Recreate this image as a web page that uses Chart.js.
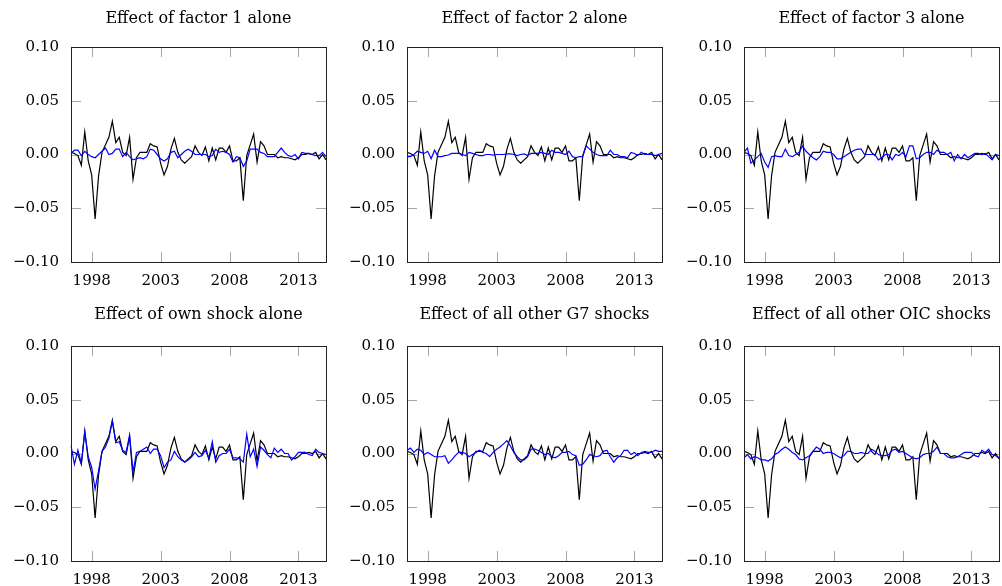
<!DOCTYPE html>
<html><head><meta charset="utf-8">
<script src="https://cdn.jsdelivr.net/npm/chart.js@4.4.1/dist/chart.umd.min.js"></script>
<style>
html,body{margin:0;padding:0;background:#fff;overflow:hidden;width:1002px;height:586px;position:relative}
canvas{position:absolute}
</style></head><body>
<canvas id="c0"></canvas><canvas id="c1"></canvas><canvas id="c2"></canvas>
<canvas id="c3"></canvas><canvas id="c4"></canvas><canvas id="c5"></canvas>
<script>
// Quarterly categories 1996Q3 .. 2015Q1
const quarters = [];
for (let yr = 1996; yr <= 2015; yr++) for (let q = 1; q <= 4; q++) {
  if (yr === 1996 && q < 3) continue;
  if (yr === 2015 && q > 1) continue;
  quarters.push(yr + 'Q' + q);
}
const tickYears = ['1998', '2003', '2008', '2013'];
const yTicks = [-0.10, -0.05, 0.00, 0.05, 0.10];
const titles = ['Effect of factor 1 alone', 'Effect of factor 2 alone', 'Effect of factor 3 alone',
  'Effect of own shock alone', 'Effect of all other G7 shocks', 'Effect of all other OIC shocks'];

const actual = [0.002,0.001,-0.001,-0.010,0.021,-0.006,-0.019,-0.060,-0.020,0.002,
  0.009,0.016,0.031,0.011,0.016,0.002,-0.001,0.016,-0.023,-0.003,
  0.002,0.002,0.002,0.010,0.008,0.007,-0.008,-0.019,-0.011,0.005,
  0.015,0.002,-0.005,-0.008,-0.005,-0.002,0.008,0.002,-0.001,0.007,
  -0.006,0.006,-0.005,0.006,0.006,0.002,0.008,-0.006,-0.006,-0.003,
  -0.043,-0.001,0.009,0.019,-0.007,0.012,0.008,0.000,0.000,0.000,
  -0.003,-0.002,-0.003,-0.003,-0.004,-0.005,-0.003,0.000,0.000,0.001,
  0.000,0.002,-0.004,0.000,-0.005];

const factor1 = [0.001,0.004,0.004,-0.001,0.003,0,-0.002,-0.003,0,0.003,
  0.006,0,0.001,0.005,0.005,-0.002,0.002,-0.002,-0.005,-0.004,
  -0.003,-0.004,-0.002,0.005,0.004,0,-0.004,-0.006,-0.004,0.002,
  0.003,-0.003,0,0.003,0.005,0.003,0,0,0,0,
  -0.002,-0.001,0.005,0.002,0.003,0.002,0,-0.007,-0.002,-0.003,
  -0.011,-0.006,0.005,0.005,0.005,0.002,0.001,-0.002,-0.002,-0.002,
  0.002,0.006,0.002,-0.001,-0.002,0,-0.004,0.002,0.001,0.001,
  0,-0.001,-0.001,0.002,-0.002];

const factor2 = [-0.002,-0.002,0,0.003,0.002,0.001,0.003,-0.004,0.004,-0.002,
  -0.002,-0.001,-0.0005,0.001,0.001,0.001,0,-0.001,0.002,0.001,
  0,-0.001,-0.001,0,0,-0.0005,0,0,0,0.0005,
  0.0005,0,-0.001,0,0.0005,-0.001,0.001,0.001,0.001,0.002,
  0.001,0,0.004,0.002,0.002,0.001,0,0.003,-0.002,-0.003,
  -0.002,-0.002,0.008,0.005,0.002,0,-0.001,-0.001,-0.001,0.004,
  0,0,-0.002,-0.002,-0.003,0.002,0.001,-0.001,0.002,0,
  0,0,-0.001,0,0.001];

const factor3 = [0.002,0.006,-0.008,-0.005,-0.002,0.001,-0.007,-0.012,-0.002,-0.001,
  -0.002,-0.002,0.005,-0.001,-0.002,0,0.002,0.008,0.003,0,
  -0.003,-0.005,-0.002,0.003,0.002,0.002,0,-0.004,-0.004,-0.002,
  0,0.002,0.004,0.005,0.005,0,0,0,0,-0.005,
  -0.003,0,0,-0.005,0,-0.001,0.002,-0.002,0.008,0.008,
  -0.004,-0.003,0,0.002,0.002,0,0.004,0.002,0.002,0,
  0.002,-0.006,0,-0.004,0,-0.003,-0.001,0.001,0.001,0,
  0.001,-0.002,-0.005,0,-0.001];

const ownShock = [0.007,-0.010,0.003,-0.009,0.020,-0.003,-0.013,-0.033,-0.016,0.002,
  0.006,0.014,0.030,0.010,0.011,0.003,0.001,0.017,-0.017,0.001,
  0.002,0.004,0.006,0,0.004,0.004,-0.002,-0.013,-0.008,-0.006,
  0.002,-0.003,-0.006,-0.008,-0.006,-0.003,0.001,-0.003,-0.002,0.003,
  -0.004,0.011,-0.008,-0.002,0,0,0.004,-0.004,-0.004,-0.005,
  -0.008,0.018,-0.003,0.004,-0.012,0.006,0.003,-0.001,-0.004,0.005,
  0.001,0.004,0,0,-0.006,-0.003,0.001,0.001,0.001,-0.001,
  -0.002,0.004,0.001,0,-0.001];

const otherG7 = [0.003,0.005,0.001,0.004,0.003,-0.001,0.001,-0.001,-0.003,-0.003,
  -0.003,-0.002,-0.009,-0.006,-0.002,0.001,0.001,0,-0.003,-0.001,
  0.001,0.003,0.001,0,-0.003,0.001,0.004,0.006,0.009,0.012,
  0.007,0.001,-0.003,-0.006,-0.006,-0.003,0.004,0.004,0.003,0.001,
  -0.001,0,-0.003,-0.004,-0.002,0.001,0.001,0.002,-0.001,-0.002,
  -0.011,-0.010,-0.006,-0.001,-0.002,-0.003,-0.002,0.002,0.003,-0.003,
  -0.008,-0.004,-0.002,0.003,0.003,-0.001,0.001,-0.002,0.001,0.002,
  0.001,0.001,0.003,0.002,0.002];

const otherOIC = [-0.004,-0.001,-0.005,-0.003,-0.004,-0.006,-0.006,-0.007,-0.005,-0.001,
  0.001,0.004,0.006,0.004,0.001,-0.001,-0.005,-0.006,-0.004,-0.002,
  0.002,0.006,0.004,0,0.001,0.001,0,-0.002,-0.004,-0.002,
  0.002,0.002,0,0,0.001,0,0,0.004,0.002,-0.001,
  -0.002,-0.002,-0.001,0.003,0.004,0.001,0.002,0,-0.002,-0.004,
  -0.005,-0.004,-0.001,0,0,0.002,0.006,0,0,-0.003,
  -0.004,-0.004,-0.003,-0.001,0.001,0.001,0.001,-0.002,-0.003,0.003,
  0.001,0.004,-0.001,-0.002,-0.004];

const effects = [factor1, factor2, factor3, ownShock, otherG7, otherOIC];

// layout
const FONT = '"DejaVu Serif", serif';
const frameLefts = [71, 407, 744];
const frameTops = [47, 346];
const titleOffsets = [24, 27];
const AXW = 70, PLOTW = 255, PADR = 5, PADT = 47, XAXH = 24, PLOTH = 215;

const framePlugin = {
  id: 'panelFrame',
  beforeDatasetsDraw(chart) {
    const {ctx, chartArea: {left, right, top, bottom}, scales: {x, y}} = chart;
    ctx.save();
    ctx.strokeStyle = '#a6a6a6';
    ctx.lineWidth = 1;
    ctx.beginPath();
    x.ticks.forEach((t, i) => {
      const px = Math.round(x.getPixelForTick(i)) + 0.5;
      ctx.moveTo(px, bottom); ctx.lineTo(px, bottom - 10);
      ctx.moveTo(px, top); ctx.lineTo(px, top + 10);
    });
    y.ticks.forEach((t, i) => {
      const py = Math.round(y.getPixelForTick(i)) + 0.5;
      ctx.moveTo(left, py); ctx.lineTo(left + 10, py);
      ctx.moveTo(right, py); ctx.lineTo(right - 10, py);
    });
    ctx.stroke();
    ctx.restore();
  },
  afterDatasetsDraw(chart) {
    const {ctx, chartArea: {left, right, top, bottom}} = chart;
    const o = chart.options.plugins.panelFrame;
    ctx.save();
    ctx.strokeStyle = '#222';
    ctx.lineWidth = 1;
    ctx.strokeRect(Math.round(left) + 0.5, Math.round(top) + 0.5, Math.round(right - left), Math.round(bottom - top));
    ctx.fillStyle = '#000';
    ctx.font = '16px ' + FONT;
    ctx.textAlign = 'center';
    ctx.textBaseline = 'alphabetic';
    ctx.fillText(o.title, (left + right) / 2, top - o.titleOffset);
    ctx.restore();
  }
};

function fmtY(v) {
  if (Math.abs(v) < 1e-9) return '0.00';
  return (v < 0 ? '\u2212' : '') + Math.abs(v).toFixed(2);
}

effects.forEach((eff, k) => {
  const row = Math.floor(k / 3), col = k % 3;
  const cv = document.getElementById('c' + k);
  const W = AXW + PLOTW + PADR, H = PADT + PLOTH + XAXH;
  cv.width = W; cv.height = H;
  cv.style.left = (frameLefts[col] - AXW) + 'px';
  cv.style.top = (frameTops[row] - PADT) + 'px';
  cv.style.width = W + 'px'; cv.style.height = H + 'px';
  new Chart(cv, {
    type: 'line',
    data: {
      labels: quarters,
      datasets: [
        {data: eff, borderColor: '#0000ff', borderWidth: 1.2, pointRadius: 0, tension: 0, order: 0, fill: false},
        {data: actual, borderColor: '#000000', borderWidth: 1.2, pointRadius: 0, tension: 0, order: 1, fill: false}
      ]
    },
    options: {
      responsive: false, animation: false, devicePixelRatio: 1,
      layout: {padding: {left: 0, right: PADR, top: PADT, bottom: 0}},
      plugins: {legend: {display: false}, tooltip: {enabled: false}, title: {display: false},
        panelFrame: {title: titles[k], titleOffset: titleOffsets[row]}},
      scales: {
        x: {
          type: 'category', offset: false,
          grid: {display: false, drawTicks: false}, border: {display: false},
          afterBuildTicks: s => { s.ticks = tickYears.map(yr => ({value: quarters.indexOf(yr + 'Q1')})); },
          afterFit: s => { s.height = XAXH; },
          ticks: {autoSkip: false, maxRotation: 0, padding: 10, color: '#000', font: {family: FONT, size: 15},
            callback: function (v) { return this.getLabelForValue(v).slice(0, 4); }}
        },
        y: {
          min: -0.1, max: 0.1,
          grid: {display: false, drawTicks: false}, border: {display: false},
          afterBuildTicks: s => { s.ticks = yTicks.map(v => ({value: v})); },
          afterFit: s => { s.width = AXW; },
          ticks: {padding: 12, color: '#000', font: {family: FONT, size: 15}, callback: v => fmtY(v)}
        }
      }
    },
    plugins: [framePlugin]
  });
});
</script>
</body></html>
